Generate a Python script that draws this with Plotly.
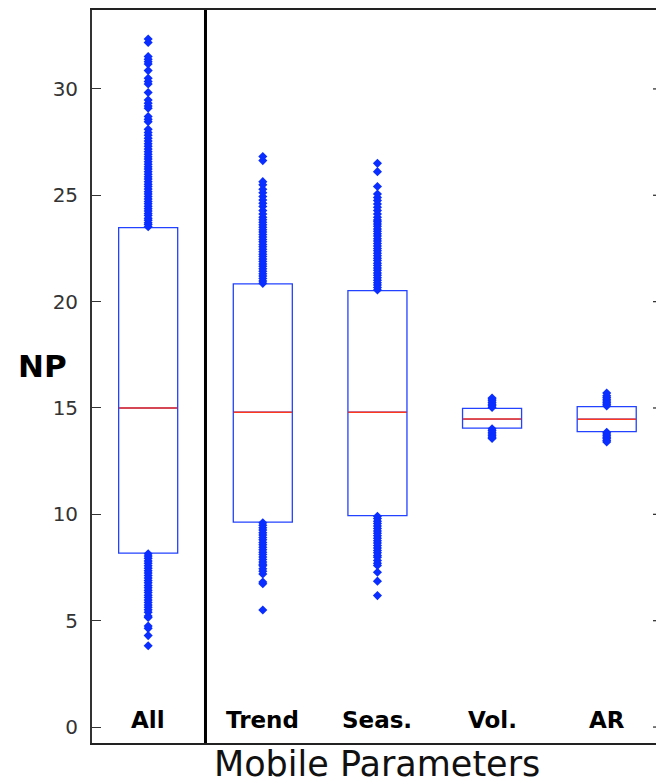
import plotly.graph_objects as go

# ---- data ----
categories = ["All", "Trend", "Seas.", "Vol.", "AR"]
positions = [1, 2, 3, 4, 5]
q1 = [8.18, 9.63, 9.94, 14.05, 13.89]
median = [15.00, 14.80, 14.80, 14.48, 14.47]
q3 = [23.48, 20.83, 20.52, 14.98, 15.06]

outliers = [
    # All
    [23.52, 23.62, 23.71, 23.83, 23.92, 24.05, 24.14, 24.26, 24.37, 24.48, 24.60, 24.71,
     24.83, 24.94, 25.06, 25.17, 25.29, 25.41, 25.52, 25.64, 25.76, 25.87, 25.99, 26.11,
     26.23, 26.34, 26.46, 26.58, 26.70, 26.81, 26.93, 27.05, 27.17, 27.30, 27.42, 27.55,
     27.68, 27.82, 27.95, 28.10, 28.46, 28.57, 28.70, 29.09, 29.20, 29.33, 29.48, 29.83,
     30.23, 30.35, 30.50, 30.86, 31.17, 31.28, 31.39, 31.52, 32.18, 32.35,
     8.15, 8.04, 7.93, 7.81, 7.70, 7.58, 7.47, 7.35, 7.24, 7.12, 7.01, 6.89, 6.78, 6.66,
     6.55, 6.43, 6.32, 6.20, 6.09, 5.97, 5.86, 5.74, 5.63, 5.51, 5.40, 5.22, 5.15, 4.75,
     4.64, 4.30, 3.82],
    # Trend
    [20.86, 20.97, 21.09, 21.20, 21.31, 21.43, 21.54, 21.66, 21.77, 21.89, 22.00, 22.12,
     22.23, 22.35, 22.46, 22.58, 22.69, 22.81, 22.92, 23.04, 23.15, 23.27, 23.38, 23.50,
     23.61, 23.73, 23.85, 23.97, 24.12, 24.28, 24.47, 24.62, 24.78, 24.94, 25.12, 25.28,
     25.49, 25.64, 26.63, 26.82,
     9.60, 9.49, 9.37, 9.26, 9.14, 9.03, 8.91, 8.80, 8.68, 8.57, 8.45, 8.34, 8.22, 8.11,
     7.99, 7.88, 7.76, 7.65, 7.58, 7.44, 7.33, 7.20, 6.82, 6.74, 5.50],
    # Seas.
    [20.55, 20.66, 20.78, 20.89, 21.01, 21.12, 21.24, 21.35, 21.47, 21.58, 21.70, 21.81,
     21.93, 22.04, 22.16, 22.27, 22.39, 22.50, 22.62, 22.73, 22.85, 22.96, 23.08, 23.19,
     23.31, 23.42, 23.54, 23.65, 23.76, 23.84, 23.97, 24.12, 24.28, 24.44, 24.59, 24.75,
     24.90, 25.06, 25.41, 26.11, 26.50,
     9.91, 9.80, 9.68, 9.57, 9.45, 9.34, 9.22, 9.11, 8.99, 8.88, 8.76, 8.65, 8.53, 8.42,
     8.30, 8.19, 8.07, 7.98, 7.83, 7.70, 7.60, 7.28, 6.86, 6.18],
    # Vol.
    [15.02, 15.10, 15.18, 15.26, 15.34, 15.42, 15.47,
     14.02, 13.94, 13.86, 13.78, 13.70, 13.62, 13.57],
    # AR
    [15.09, 15.17, 15.25, 15.33, 15.41, 15.49, 15.57, 15.70,
     13.86, 13.78, 13.70, 13.62, 13.55, 13.47, 13.40],
]

y_ticks = [0, 5, 10, 15, 20, 25, 30]

# ---- styles ----
BOX_BLUE = "#2342ff"
DOT_BLUE = "#0a2eff"
MED_RED = "#ff3a1c"
BOX_W = 0.515

fig = go.Figure()

for i, cat in enumerate(categories):
    p = positions[i]
    fig.add_trace(go.Box(
        x=[p], q1=[q1[i]], median=[median[i]], q3=[q3[i]],
        lowerfence=[q1[i]], upperfence=[q3[i]],
        width=BOX_W, whiskerwidth=0,
        fillcolor="rgba(255,255,255,0)",
        line=dict(color=BOX_BLUE, width=1.3),
        boxpoints=False, showlegend=False, hoverinfo="skip",
    ))
    fig.add_trace(go.Scatter(
        x=[p - BOX_W / 2 + 0.004, p + BOX_W / 2 - 0.004], y=[median[i], median[i]],
        mode="lines", line=dict(color=MED_RED, width=1.6),
        showlegend=False, hoverinfo="skip",
    ))
    fig.add_trace(go.Scatter(
        x=[p] * len(outliers[i]), y=outliers[i], mode="markers",
        marker=dict(symbol="diamond", size=7, color=DOT_BLUE, line=dict(width=0)),
        showlegend=False, hoverinfo="skip",
    ))
    fig.add_annotation(
        x=p, y=0.33, xref="x", yref="y", text=cat, showarrow=False,
        yanchor="middle", xanchor="center",
        font=dict(family="DejaVu Sans", size=23, color="black", weight="bold"),
    )

# divider between "All" and the rest
fig.add_shape(type="line", xref="x", yref="paper", x0=1.5, x1=1.5, y0=0, y1=1,
              line=dict(color="black", width=3))

# right-side ticks (axis is cropped off on the right)
for t in y_ticks:
    fig.add_shape(type="line", xref="paper", yref="y", x0=0.9947, x1=1.0, y0=t, y1=t,
                  line=dict(color="#333333", width=1.3))

fig.add_annotation(
    x=(42 - 92) / 564, y=(743 - 366) / 733, xref="paper", yref="paper",
    text="NP", showarrow=False, xanchor="center", yanchor="middle",
    font=dict(family="DejaVu Sans", size=31, color="black", weight="bold"),
)
fig.add_annotation(
    x=0.505, y=-(764 - 743) / 733, xref="paper", yref="paper",
    text="Mobile Parameters", showarrow=False, xanchor="center", yanchor="middle",
    font=dict(family="DejaVu Sans", size=35, color="#111111"),
)

fig.update_layout(
    width=656, height=784,
    margin=dict(l=92, r=0, t=10, b=41),
    plot_bgcolor="white", paper_bgcolor="white",
    boxmode="overlay", showlegend=False,
    xaxis=dict(range=[0.51, 5.43], showticklabels=False, ticks="",
               showgrid=False, zeroline=False, showline=True, mirror=True,
               linecolor="#222222", linewidth=1.6),
    yaxis=dict(range=[-0.75, 33.71], tickvals=y_ticks, ticktext=[str(t) for t in y_ticks],
               ticks="inside", ticklen=9, tickwidth=1.3, tickcolor="#333333",
               ticklabelstandoff=8,
               tickfont=dict(family="DejaVu Sans", size=20, color="#333333"),
               showgrid=False, zeroline=False, showline=True,
               linecolor="#333333", linewidth=1.8),
)

fig.write_html(
    "out.html",
    config={"displayModeBar": False},
    post_script="document.body.style.margin='0';document.body.style.overflow='hidden';",
)
